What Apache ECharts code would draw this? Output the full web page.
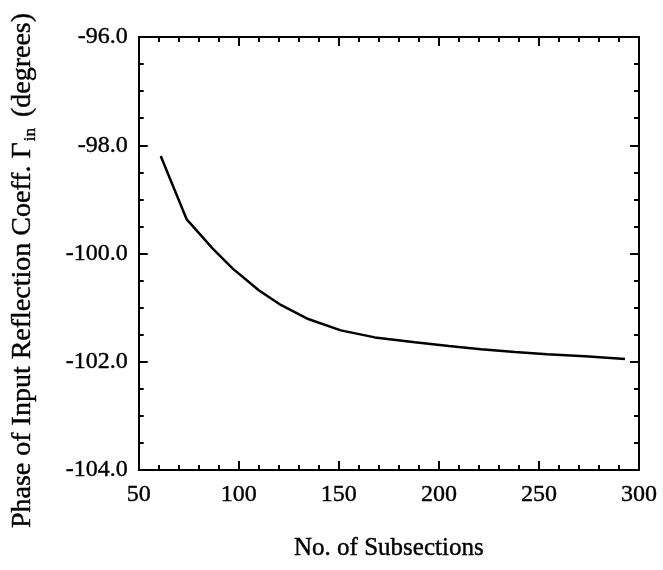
<!DOCTYPE html>
<html>
<head>
<meta charset="utf-8">
<script src="https://cdn.jsdelivr.net/npm/echarts@6/dist/echarts.min.js"></script>
<style>html,body{margin:0;padding:0;background:#fff;}#c{width:663px;height:570px;}</style>
</head>
<body>
<div id="c"></div>
<script>
var subsections = [61, 74, 87, 97, 110, 121, 134, 151, 168, 188, 205, 221, 238, 254, 273, 293];
var phaseDeg = [-98.20, -99.37, -99.91, -100.28, -100.68, -100.95, -101.20, -101.42, -101.55, -101.64, -101.71, -101.77, -101.82, -101.86, -101.90, -101.95];
var xTicks = [50, 100, 150, 200, 250, 300];
var yTicks = [-104, -102, -100, -98, -96];

var FONT = 'Liberation Serif';
var chart = echarts.init(document.getElementById('c'), null, {renderer: 'canvas'});
var lineStyle = {color: '#000', width: 2};
var heavy = {textBorderColor: '#000', textBorderWidth: 0.4};
function xAx(pos, show) {
  return {
    type: 'value', position: pos, min: xTicks[0], max: xTicks[xTicks.length - 1], interval: 50,
    axisLine: {show: true, onZero: false, lineStyle: lineStyle},
    axisTick: {show: true, inside: true, length: 9, lineStyle: {color: '#000', width: 2}},
    minorTick: {show: true, splitNumber: 5, length: 5, lineStyle: {color: '#000', width: 2}},
    splitLine: {show: false},
    axisLabel: Object.assign({show: show, margin: 13, color: '#000', fontFamily: FONT, fontSize: 24}, heavy),
    name: show ? 'No. of Subsections' : '', nameLocation: 'middle', nameGap: 66,
    nameTextStyle: Object.assign({color: '#000', fontFamily: FONT, fontSize: 25}, heavy)
  };
}
function yAx(pos, show) {
  return {
    type: 'value', position: pos, min: yTicks[0], max: yTicks[yTicks.length - 1], interval: 2,
    axisLine: {show: true, onZero: false, lineStyle: lineStyle},
    axisTick: {show: true, inside: true, length: 9, lineStyle: {color: '#000', width: 2}},
    minorTick: {show: true, splitNumber: 4, length: 5, lineStyle: {color: '#000', width: 2}},
    splitLine: {show: false},
    axisLabel: Object.assign({show: show, margin: 11, color: '#000', fontFamily: FONT, fontSize: 24,
      formatter: function (v) { return v.toFixed(1); }}, heavy),
    name: show ? '{a|Phase of Input Reflection Coeff. Γ}{s|in}{a| (degrees)}' : '',
    nameLocation: 'middle', nameGap: 100, nameRotate: 90,
    nameTextStyle: {color: '#000', fontFamily: FONT, fontSize: 28, padding: [0, 34, 0, 0],
      rich: {
        a: Object.assign({color: '#000', fontFamily: FONT, fontSize: 28}, heavy),
        s: Object.assign({color: '#000', fontFamily: FONT, fontSize: 17, padding: [16, 4, 0, 1]}, heavy)
      }}
  };
}
chart.setOption({
  backgroundColor: '#fff',
  animation: false,
  grid: {left: 137, right: 24, top: 37, bottom: 100, containLabel: false},
  xAxis: [xAx('bottom', true), xAx('top', false)],
  yAxis: [yAx('left', true), yAx('right', false)],
  series: [{
    type: 'line', xAxisIndex: 0, yAxisIndex: 0, showSymbol: false, smooth: false,
    lineStyle: {color: '#000', width: 2.5},
    data: subsections.map(function (x, i) { return [x, phaseDeg[i]]; })
  }]
});
</script>
</body>
</html>
